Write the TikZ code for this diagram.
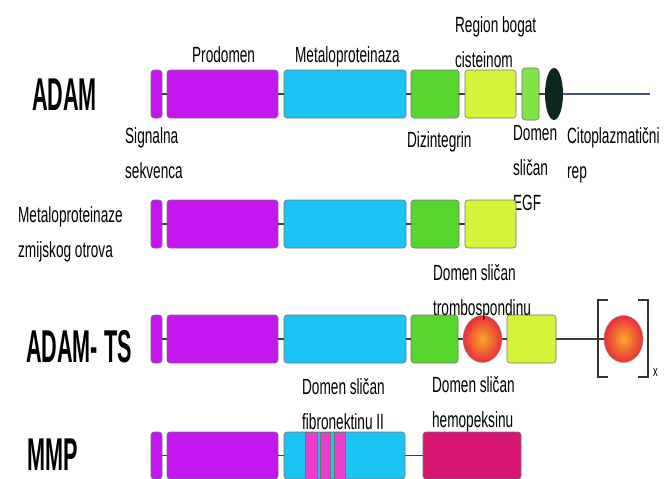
\documentclass[tikz,border=0pt]{standalone}
\usepackage{fontspec}
\setmainfont{Liberation Sans}
\usepackage{tikz}
\usetikzlibrary{shapes.geometric}

\definecolor{prodom}{RGB}{196,22,238}
\definecolor{metal}{RGB}{28,196,244}
\definecolor{dizint}{RGB}{88,214,48}
\definecolor{cysrich}{RGB}{214,244,58}
\definecolor{egfgreen}{RGB}{130,228,70}
\definecolor{capdark}{RGB}{12,40,32}
\definecolor{hemo}{RGB}{214,22,112}
\definecolor{fibro}{RGB}{238,60,205}
\definecolor{tailblue}{RGB}{70,85,125}
\definecolor{tspin}{RGB}{246,170,40}
\definecolor{tspout}{RGB}{236,44,58}

\tikzset{
  dom/.style={draw=black!55, line width=0.6pt, rounded corners=3pt, minimum height=48, inner sep=0pt},
  tsp/.style={ellipse, draw=black!40, line width=0.5pt, minimum width=39, minimum height=47, inner sep=0pt,
    shading=radial, inner color=tspin, outer color=tspout},
  link/.style={black!75, line width=1.6pt},
  lbl/.style={font=\fontsize{22}{35}\selectfont, xscale=0.62, inner sep=0pt, align=left},
  famname/.style={font=\fontsize{46}{46}\selectfont\bfseries, xscale=0.47, inner sep=0pt},
  brack/.style={black!80, line width=2.5pt}
}

\begin{document}
\begin{tikzpicture}[x=1pt,y=-1pt]
\useasboundingbox (0,0) rectangle (665,479);

%ADAM
\node[famname, anchor=base west] (nadam) at (32,110) {ADAM};
\node[dom, fill=prodom, minimum width=11] (sig1) at (156.5,94) {};
\node[dom, fill=prodom, minimum width=111] (pro1) at (222.5,94) {};
\node[dom, fill=metal, minimum width=122] (met1) at (345,94) {};
\node[dom, fill=dizint, minimum width=48] (dis1) at (435,94) {};
\node[dom, fill=cysrich, minimum width=51] (cys1) at (490.5,94) {};
\node[dom, fill=egfgreen, minimum width=17, minimum height=52] (egf1) at (530.5,94) {};
\node[ellipse, fill=capdark, minimum width=18, minimum height=52, inner sep=0pt] (cap1) at (554,94) {};
\coordinate (tail1) at (650,94);

\draw[link] (sig1) -- (pro1);
\draw[link] (pro1) -- (met1);
\draw[link] (met1) -- (dis1);
\draw[link] (dis1) -- (cys1);
\draw[link] (cys1) -- (egf1);
\draw[link] (egf1) -- (cap1);
\draw[tailblue, line width=2.5pt] (cap1) -- (tail1);

% multi-line labels sit on the baseline of their last line
\node[lbl, anchor=base west] (tprod) at (192,62) {Prodomen};
\node[lbl, anchor=base west] (tmet) at (295,63) {Metaloproteinaza};
\node[lbl, anchor=base west] (tcys) at (455,67) {Region bogat\\cisteinom};
\node[lbl, anchor=base west] (tsig) at (125,178) {Signalna\\sekvenca};
\node[lbl, anchor=base west] (tdis) at (407,147) {Dizintegrin};
\node[lbl, anchor=base west] (tegf) at (513,210) {Domen\\sli\v{c}an\\EGF};
\node[lbl, anchor=base west] (ttail) at (567,178) {Citoplazmati\v{c}ni\\rep};

%snake venom metalloproteinases
\node[lbl, anchor=base west] (nsvmp) at (18,257) {Metaloproteinaze\\zmijskog otrova};
\node[dom, fill=prodom, minimum width=11] (sig2) at (156.5,224) {};
\node[dom, fill=prodom, minimum width=111] (pro2) at (222.5,224) {};
\node[dom, fill=metal, minimum width=122] (met2) at (345,224) {};
\node[dom, fill=dizint, minimum width=48] (dis2) at (435,224) {};
\node[dom, fill=cysrich, minimum width=51] (cys2) at (490.5,224) {};

\draw[link] (sig2) -- (pro2);
\draw[link] (pro2) -- (met2);
\draw[link] (met2) -- (dis2);
\draw[link] (dis2) -- (cys2);

%ADAM-TS
\node[famname, anchor=base west] (nadamts) at (26,362) {ADAM- TS};
\node[dom, fill=prodom, minimum width=11] (sig3) at (156.5,339) {};
\node[dom, fill=prodom, minimum width=111] (pro3) at (222.5,339) {};
\node[dom, fill=metal, minimum width=122] (met3) at (345,339) {};
\node[dom, fill=dizint, minimum width=47] (dis3) at (434.5,339) {};
\node[tsp] (tsp3) at (482.5,339) {};
\node[dom, fill=cysrich, minimum width=49] (cys3) at (531.5,339) {};
\node[tsp] (tspx) at (623.5,339) {};

\draw[link] (sig3) -- (pro3);
\draw[link] (pro3) -- (met3);
\draw[link] (met3) -- (dis3);
\draw[link] (dis3) -- (tsp3);
\draw[link] (tsp3) -- (cys3);
\draw[link, line width=2.2pt] (cys3) -- (tspx);

\draw[brack] (608,300) -- (598,300) -- (598,377) -- (608,377);
\draw[brack] (638,300) -- (648,300) -- (648,377) -- (638,377);
\node[lbl, font=\fontsize{15}{15}\selectfont, anchor=base west] (trep) at (653,376) {x};

\node[lbl, anchor=base west] (ttsp) at (433,315) {Domen sli\v{c}an\\trombospondinu};

%MMP
\node[famname, anchor=base west] (nmmp) at (27,470) {MMP};
\node[dom, fill=prodom, minimum width=11, minimum height=47] (sig4) at (156.5,455.5) {};
\node[dom, fill=prodom, minimum width=111, minimum height=47] (pro4) at (222.5,455.5) {};
\node[dom, fill=metal, minimum width=121, minimum height=47] (met4) at (344.5,455.5) {};
\node[draw=black!55, fill=fibro, minimum width=12, minimum height=47, inner sep=0pt] (fn1) at (311,455.5) {};
\node[draw=black!55, fill=fibro, minimum width=10, minimum height=47, inner sep=0pt] (fn2) at (325,455.5) {};
\node[draw=black!55, fill=fibro, minimum width=11, minimum height=47, inner sep=0pt] (fn3) at (339.5,455.5) {};
\node[dom, fill=hemo, minimum width=98, minimum height=47] (hem4) at (472,455.5) {};

\draw[link] (sig4) -- (pro4);
\draw[link] (pro4) -- (met4);
\draw[link] (met4) -- (hem4);

\node[lbl, anchor=base west] (tfn) at (302,429) {Domen sli\v{c}an\\fibronektinu II};
\node[lbl, anchor=base west] (themo) at (432,427) {Domen sli\v{c}an\\hemopeksinu};

\end{tikzpicture}
\end{document}
